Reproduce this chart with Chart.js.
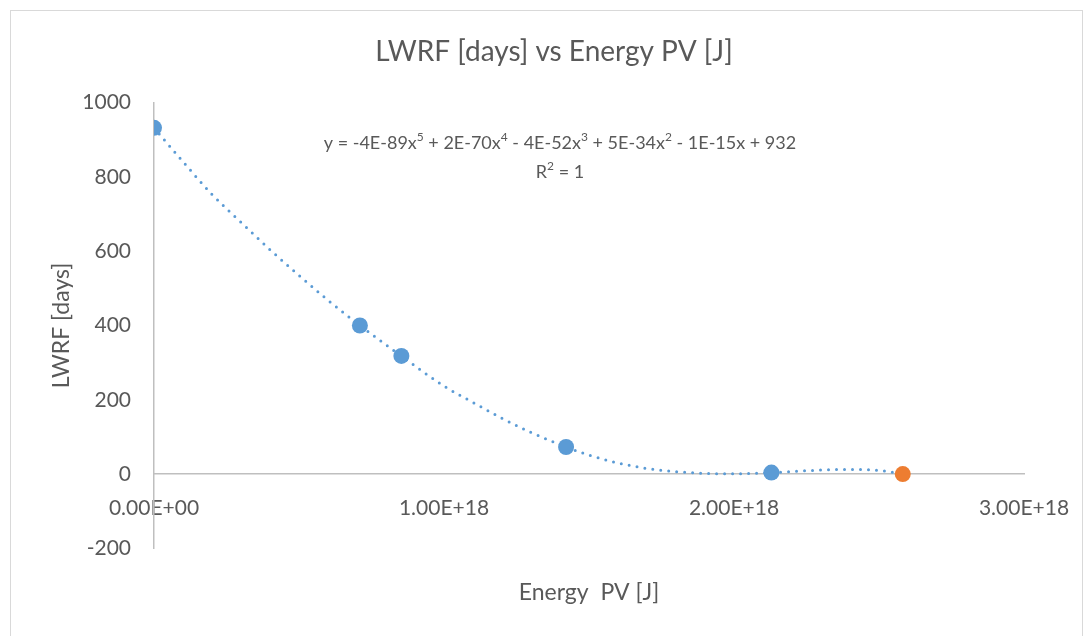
<!DOCTYPE html>
<html>
<head>
<meta charset="utf-8">
<script src="https://cdn.jsdelivr.net/npm/chart.js@4.4.1/dist/chart.umd.min.js"></script>
<style>
  body { margin: 0; background: #ffffff; }
  #wrap { position: relative; width: 1087px; height: 636px; }
</style>
</head>
<body>
<div id="wrap"><canvas id="lwrf-chart"></canvas></div>
<script>
// measured points (Energy PV [J], LWRF [days])
const energyPV = [0, 0.71e18, 0.853e18, 1.421e18, 2.129e18];
const lwrfDays = [932, 400, 318, 73, 4];
const lastEnergy = [2.582e18];
const lastLwrf = [0];

// dotted polynomial trendline
const trendX = [0, 0.1e18, 0.2e18, 0.3e18, 0.4e18, 0.5e18, 0.6e18, 0.71e18, 0.853e18, 1.0e18, 1.1e18, 1.2e18, 1.3e18, 1.421e18, 1.5e18, 1.6e18, 1.7e18, 1.8e18, 1.9e18, 2.0e18, 2.129e18, 2.2e18, 2.3e18, 2.4e18, 2.5e18, 2.582e18];
const trendY = [932, 841, 753, 678, 604, 535, 468, 400, 318, 237, 193, 150, 112, 73, 51, 30, 15, 6.5, 2, 1, 4, 7, 11, 12.7, 10, 0];

const xTicks = [0, 1e18, 2e18, 3e18];
const yTicks = [-200, 0, 200, 400, 600, 800, 1000];

const titleText = 'LWRF [days] vs Energy PV [J]';
const xTitle = 'Energy  PV [J]';
const yTitle = 'LWRF [days]';
// [text, superscript?]
const equationParts = [
    ['y = -4E-89x', false], ['5', true],
    [' + 2E-70x', false], ['4', true],
    [' - 4E-52x', false], ['3', true],
    [' + 5E-34x', false], ['2', true],
    [' - 1E-15x + 932', false]
];
const r2Parts = [['R', false], ['2', true], [' = 1', false]];

const textColor = '#595959';
const axisColor = '#bfbfbf';

function toPoints(xs, ys) {
    return xs.map((x, i) => ({ x: x, y: ys[i] }));
}

// Excel style 0.00E+00
function sciLabel(v) {
    const parts = Number(v).toExponential(2).toUpperCase().split('E');
    let exp = parseInt(parts[1]);
    const sign = exp < 0 ? '-' : '+';
    exp = Math.abs(exp);
    return parts[0] + 'E' + sign + (exp < 10 ? '0' + exp : exp);
}

function drawRich(ctx, parts, cx, cy) {
    const normal = '18px Lato';
    const small = '12px Lato';
    let total = 0;
    parts.forEach(p => {
        ctx.font = p[1] ? small : normal;
        total += ctx.measureText(p[0]).width;
    });
    let x = cx - total / 2;
    parts.forEach(p => {
        ctx.font = p[1] ? small : normal;
        ctx.fillText(p[0], x, p[1] ? cy - 6 : cy);
        x += ctx.measureText(p[0]).width;
    });
}

const framePlugin = {
    id: 'frame',
    beforeDraw(chart) {
        const ctx = chart.ctx;
        ctx.save();
        ctx.fillStyle = '#ffffff';
        ctx.fillRect(0, 0, chart.width, chart.height);
        ctx.strokeStyle = '#d9d9d9';
        ctx.lineWidth = 1;
        ctx.strokeRect(10.5, 10.5, 1072, 640);
        ctx.restore();
    }
};

const equationPlugin = {
    id: 'equation',
    afterDatasetsDraw(chart) {
        const ctx = chart.ctx;
        const area = chart.chartArea;
        const cx = area.left + 406;
        ctx.save();
        ctx.fillStyle = textColor;
        ctx.textAlign = 'left';
        ctx.textBaseline = 'middle';
        drawRich(ctx, equationParts, cx, area.top + 41);
        drawRich(ctx, r2Parts, cx, area.top + 70);
        ctx.restore();
    }
};

Chart.defaults.font.family = 'Lato';
Chart.defaults.color = textColor;

const ctx = document.getElementById('lwrf-chart').getContext('2d');
const chart = new Chart(ctx, {
    type: 'scatter',
    data: {
        datasets: [
            {
                label: 'trend',
                type: 'line',
                data: toPoints(trendX, trendY),
                borderColor: '#5b9bd5',
                borderWidth: 3,
                borderDash: [0, 8],
                borderCapStyle: 'round',
                pointRadius: 0,
                cubicInterpolationMode: 'monotone',
                fill: false,
                order: 3
            },
            {
                label: 'LWRF',
                data: toPoints(energyPV, lwrfDays),
                backgroundColor: '#5b9bd5',
                borderColor: '#5b9bd5',
                pointRadius: 8,
                pointBorderWidth: 0,
                order: 2
            },
            {
                label: 'last',
                data: toPoints(lastEnergy, lastLwrf),
                backgroundColor: '#ed7d31',
                borderColor: '#ed7d31',
                pointRadius: 8,
                pointBorderWidth: 0,
                order: 1
            }
        ]
    },
    options: {
        responsive: true,
        maintainAspectRatio: false,
        animation: false,
        // uneven side padding puts the title where Excel had it
        layout: { padding: { left: 84, right: 63, top: 0, bottom: 0 } },
        plugins: {
            legend: { display: false },
            tooltip: { enabled: false },
            title: {
                display: true,
                text: titleText,
                color: textColor,
                font: { size: 28, weight: 'normal' },
                padding: { top: 35, bottom: 34 }
            },
            subtitle: {
                display: true,
                position: 'bottom',
                fullSize: false,
                text: xTitle,
                color: textColor,
                font: { size: 23, weight: 'normal' },
                padding: { top: 30, bottom: 30 }
            }
        },
        scales: {
            x: {
                type: 'linear',
                position: { y: 0 },
                min: xTicks[0],
                max: xTicks[xTicks.length - 1],
                grid: { display: false, drawTicks: false },
                border: { display: true, color: axisColor, width: 1.5 },
                afterBuildTicks: (scale) => { scale.ticks = xTicks.map(v => ({ value: v })); },
                // labels may hang over the edges, the layout padding already leaves room
                afterFit: (scale) => { scale.paddingLeft = 0; scale.paddingRight = 0; },
                ticks: {
                    font: { size: 21 },
                    color: textColor,
                    padding: 22,
                    maxRotation: 0,
                    callback: (v) => sciLabel(v)
                }
            },
            y: {
                type: 'linear',
                position: 'left',
                min: yTicks[0],
                max: yTicks[yTicks.length - 1],
                grid: { display: false, drawTicks: false },
                border: { display: true, color: axisColor, width: 1.5 },
                afterBuildTicks: (scale) => { scale.ticks = yTicks.map(v => ({ value: v })); },
                afterFit: (scale) => { scale.width = 70; },
                ticks: {
                    font: { size: 21 },
                    color: textColor,
                    padding: 23,
                    callback: (v) => String(v)
                },
                title: {
                    display: true,
                    text: yTitle,
                    color: textColor,
                    font: { size: 23, weight: 'normal' },
                    padding: { top: -36, bottom: 0 }
                }
            }
        }
    },
    plugins: [framePlugin, equationPlugin]
});
</script>
</body>
</html>
